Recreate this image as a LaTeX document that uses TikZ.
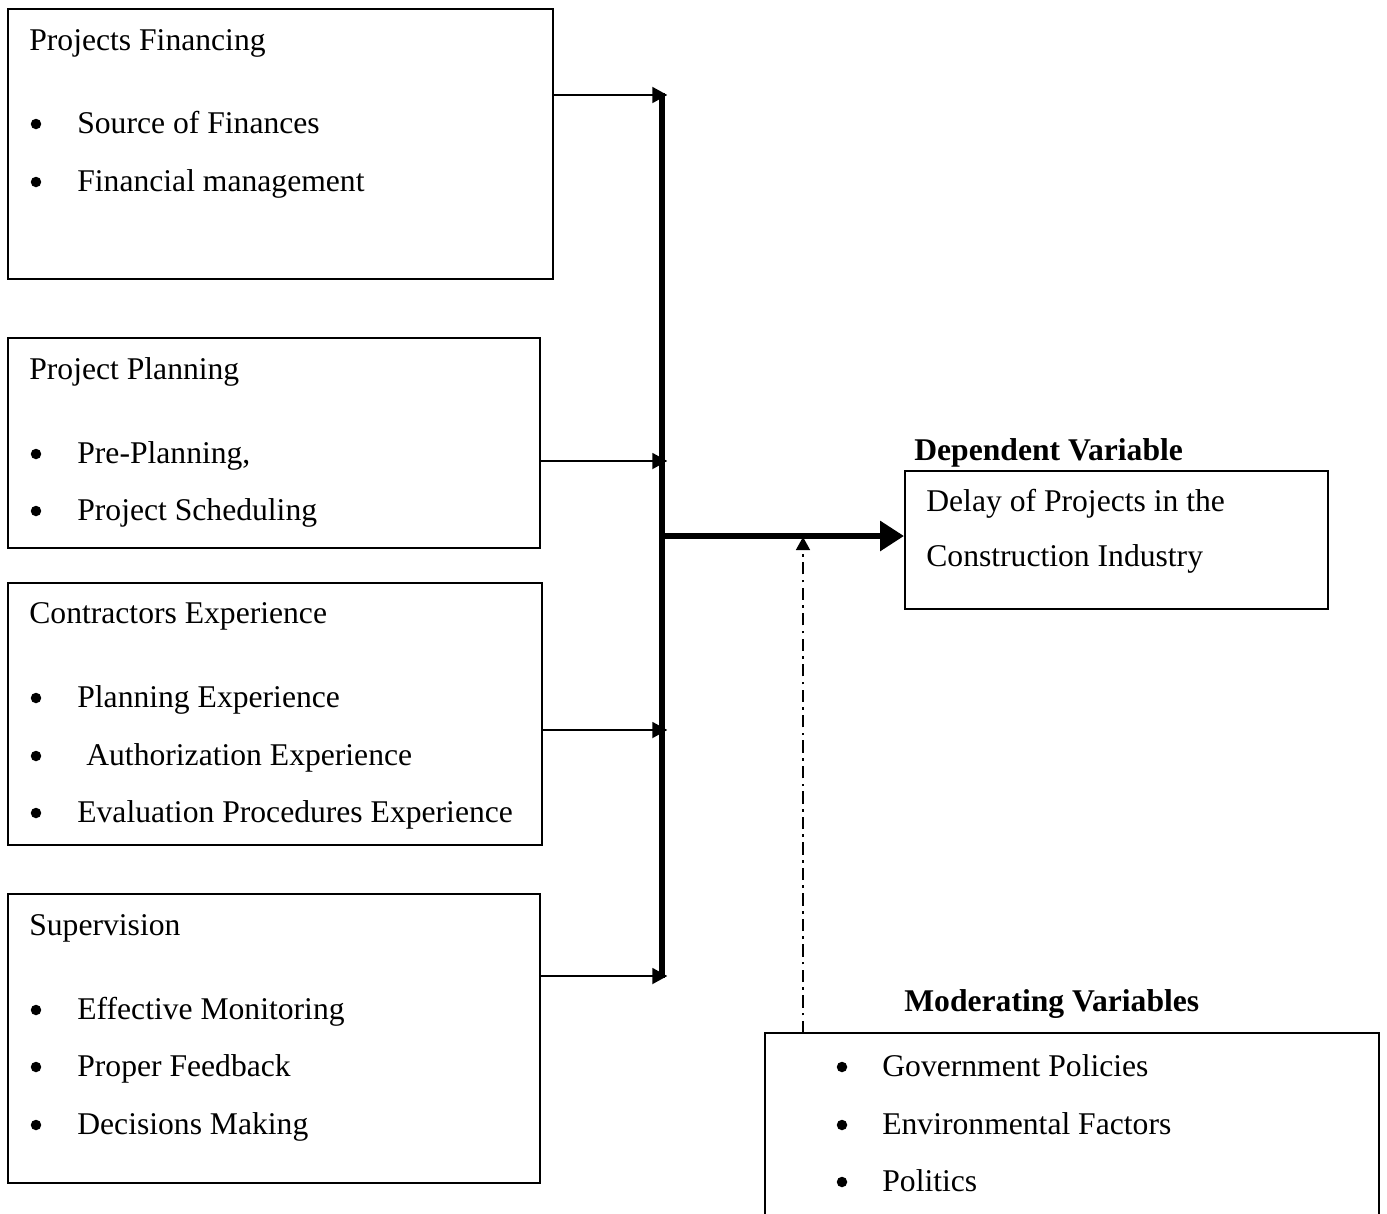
\documentclass[tikz,border=0pt]{standalone}
\usepackage{fontspec}
\setmainfont{Liberation Serif}
\usetikzlibrary{arrows.meta,fit}
\begin{document}
\begin{tikzpicture}[x=0.02cm,y=-0.02cm,
  box/.style={draw,line width=1.1pt,inner sep=0pt},
  txt/.style={anchor=base west,inner sep=0pt,font=\fontsize{18}{20}\selectfont},
  btxt/.style={txt,font=\fontsize{18}{20}\selectfont\bfseries},
  bul/.style={circle,fill=black,inner sep=0pt,minimum size=0.21cm,yshift=0.18cm},
  thinarr/.style={line width=1.1pt,-{Triangle[length=0.3cm,width=0.32cm]}},
  bar/.style={line width=3.4pt},
  thickarr/.style={line width=3.4pt,-{Triangle[length=0.48cm,width=0.58cm]}},
  modarr/.style={line width=0.8pt,dash pattern=on 7pt off 3pt on 1.5pt off 3pt,-{Triangle[length=0.26cm,width=0.28cm]}}]
\useasboundingbox (0,0) rectangle (1387,1214);
% box corner coordinates
\coordinate (a1) at (8,9);    \coordinate (a2) at (553,279);
\coordinate (p1) at (8,338);  \coordinate (p2) at (540,548);
\coordinate (c1) at (8,583);  \coordinate (c2) at (542,845);
\coordinate (s1) at (8,894);  \coordinate (s2) at (540,1183);
\coordinate (d1) at (905,471); \coordinate (d2) at (1328,609);
\node[box,fit=(a1)(a2)] (fin) {};
\node[box,fit=(p1)(p2)] (plan) {};
\node[box,fit=(c1)(c2)] (cont) {};
\node[box,fit=(s1)(s2)] (sup) {};
\node[box,fit=(d1)(d2)] (dep) {};
% moderating box (bottom cut by the page)
\coordinate (modtop) at (803,1033);
\draw[line width=1.1pt] (765,1220) -- (765,1033) -- (1379,1033) -- (1379,1220);
% texts
\node[txt] (t1) at (29,50) {Projects Financing};
\node[bul] (b11) at (36,133) {}; \node[txt] (t11) at (77,133) {Source of Finances};
\node[bul] (b12) at (36,191) {}; \node[txt] (t12) at (77,191) {Financial management};
\node[txt] (t2) at (29,379) {Project Planning};
\node[bul] (b21) at (36,463) {}; \node[txt] (t21) at (77,463) {Pre-Planning,};
\node[bul] (b22) at (36,520) {}; \node[txt] (t22) at (77,520) {Project Scheduling};
\node[txt] (t3) at (29,623) {Contractors Experience};
\node[bul] (b31) at (36,707) {}; \node[txt] (t31) at (77,707) {Planning Experience};
\node[bul] (b32) at (36,765) {}; \node[txt] (t32) at (86,765) {Authorization Experience};
\node[bul] (b33) at (36,822) {}; \node[txt] (t33) at (77,822) {Evaluation Procedures Experience};
\node[txt] (t4) at (29,935) {Supervision};
\node[bul] (b41) at (36,1019) {}; \node[txt] (t41) at (77,1019) {Effective Monitoring};
\node[bul] (b42) at (36,1076) {}; \node[txt] (t42) at (77,1076) {Proper Feedback};
\node[bul] (b43) at (36,1134) {}; \node[txt] (t43) at (77,1134) {Decisions Making};
\node[btxt] (dv) at (914,460) {Dependent Variable};
\node[txt] (d1t) at (926,511) {Delay of Projects in the};
\node[txt] (d2t) at (926,566) {Construction Industry};
\node[btxt] (mv) at (904,1011) {Moderating Variables};
\node[bul] (m1b) at (842,1076) {}; \node[txt] (m1) at (882,1076) {Government Policies};
\node[bul] (m2b) at (842,1134) {}; \node[txt] (m2) at (882,1134) {Environmental Factors};
\node[bul] (m3b) at (842,1191) {}; \node[txt] (m3) at (882,1191) {Politics};
% junctions on the bar
\coordinate (j1) at (662,95);
\coordinate (j2) at (662,461);
\coordinate (j3) at (662,730);
\coordinate (j4) at (662,976);
\coordinate (jm) at (662,536);
\coordinate (jd) at (803,537);
% connectors
\draw[bar] (662,93) -- (662,978);
\draw[thinarr] (fin.east |- j1) -- ([xshift=3]j1);
\draw[thinarr] (plan.east |- j2) -- ([xshift=3]j2);
\draw[thinarr] (cont.east |- j3) -- ([xshift=3]j3);
\draw[thinarr] (sup.east |- j4) -- ([xshift=3]j4);
\draw[thickarr] (jm) -- (dep.west |- jm);
\draw[modarr] (modtop) -- (jd);
\end{tikzpicture}
\end{document}
